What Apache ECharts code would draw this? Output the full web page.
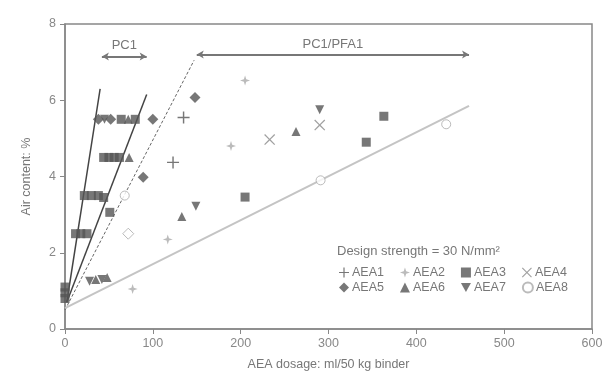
<!DOCTYPE html>
<html>
<head>
<meta charset="utf-8">
<script src="https://cdn.jsdelivr.net/npm/echarts@6/dist/echarts.min.js"></script>
<style>
  html, body { margin: 0; padding: 0; background: #fff; }
  #chart { width: 608px; height: 388px; }
</style>
</head>
<body>
<div id="chart"></div>
<script>
// tick labels
var xTicks = [0, 100, 200, 300, 400, 500, 600];
var yTicks = [0, 2, 4, 6, 8];

// points: [AEA dosage, air content]
var aea1 = [[135, 5.55], [123, 4.37]];
var aea2 = [[205, 6.52], [189, 4.8], [117, 2.35], [77, 1.05]];
var aea3 = [[0, 0.8], [0, 0.95], [0, 1.1], [12, 2.5], [18, 2.5], [25, 2.5],
  [22, 3.5], [30, 3.5], [38, 3.5], [44, 3.45], [51, 3.06],
  [44, 4.5], [50, 4.5], [56, 4.5], [62, 4.5], [64, 5.5], [80, 5.5],
  [205, 3.46], [343, 4.9], [363, 5.58]];
var aea4 = [[233, 4.97], [290, 5.35]];
var aea5 = [[38, 5.5], [52, 5.5], [89, 3.98], [100, 5.5], [148, 6.07]];
var aea6 = [[35, 1.3], [48, 1.35], [73, 4.5], [72, 5.5], [133, 2.95], [263, 5.18]];
var aea7 = [[28, 1.25], [42, 1.3], [45, 5.5], [149, 3.22], [290, 5.75]];
var aea8 = [[68, 3.5], { value: [72, 2.5], symbol: 'diamond', symbolSize: 11 }, [291, 3.9], [434, 5.37]];

// fitted lines
var linePC1a = [[2, 0.7], [40, 6.3]];
var linePC1b = [[2, 0.7], [93, 6.15]];
var linePFA1a = [[0, 0.5], [147, 7.05]];
var linePFA1b = [[0, 0.55], [460, 5.85]];

// range bars
var barPC1 = [[42, 7.15], [93, 7.15]];
var barPFA1 = [[150, 7.2], [460, 7.2]];

var plusPath = 'path://M0,4.4H10V5.6H0Z M4.4,0H5.6V10H4.4Z';
var crossPath = 'path://M0.8,0 L5,4.2 L9.2,0 L10,0.8 L5.8,5 L10,9.2 L9.2,10 L5,5.8 L0.8,10 L0,9.2 L4.2,5 L0,0.8Z';
var starPath = 'path://M5,0 L6.2,3.8 L10,5 L6.2,6.2 L5,10 L3.8,6.2 L0,5 L3.8,3.8Z';

function pts(name, data, symbol, size, style) {
  return {
    name: name, type: 'scatter', data: data, symbol: symbol,
    symbolSize: size, itemStyle: style, z: 5
  };
}

function trend(data, color, width, type) {
  return {
    type: 'line', data: data, symbol: 'none', silent: true,
    lineStyle: { color: color, width: width, type: type }, z: 3
  };
}

function rangeBar(data, text) {
  return {
    type: 'line', data: [], silent: true,
    markLine: {
      symbol: ['arrow', 'arrow'], symbolSize: [6, 7], silent: true,
      lineStyle: { color: '#777', width: 2, type: 'solid' },
      label: { show: true, position: 'insideMiddleTop', formatter: text,
        color: '#777', fontSize: 13, distance: 4 },
      data: [[{ coord: data[0] }, { coord: data[1] }]]
    }
  };
}

var chart = echarts.init(document.getElementById('chart'));

var legendStyle = { color: '#777', fontSize: 12.5, padding: [0, 0, 0, -2] };

var option = {
  backgroundColor: '#fff',
  animation: false,
  grid: { left: 65, right: 16, top: 24, bottom: 59, show: true,
    borderColor: '#888', borderWidth: 1.5 },
  xAxis: {
    type: 'value', min: xTicks[0], max: xTicks[xTicks.length - 1], interval: 100,
    name: 'AEA dosage: ml/50 kg binder', nameLocation: 'middle', nameGap: 29,
    nameTextStyle: { color: '#777', fontSize: 12.5 },
    axisLine: { lineStyle: { color: '#888', width: 1.5 } },
    axisTick: { length: 5, lineStyle: { color: '#888' } },
    axisLabel: { color: '#888', fontSize: 12.5, margin: 8 },
    splitLine: { show: false }
  },
  yAxis: {
    type: 'value', min: yTicks[0], max: yTicks[yTicks.length - 1], interval: 2,
    name: 'Air content: %', nameLocation: 'middle', nameGap: 32,
    nameTextStyle: { color: '#777', fontSize: 12.5 },
    axisLine: { lineStyle: { color: '#888', width: 1.5 } },
    axisTick: { length: 5, lineStyle: { color: '#888' } },
    axisLabel: { color: '#888', fontSize: 12.5, margin: 9 },
    splitLine: { show: false }
  },
  legend: [
    { data: ['AEA1', 'AEA2', 'AEA3', 'AEA4'], left: 334, top: 261,
      itemWidth: 10, itemHeight: 10, itemGap: 16, textStyle: legendStyle },
    { data: ['AEA5', 'AEA6', 'AEA7', 'AEA8'], left: 334, top: 276,
      itemWidth: 10, itemHeight: 10, itemGap: 16, textStyle: legendStyle }
  ],
  graphic: [
    { type: 'text', left: 337, top: 245,
      style: { text: 'Design strength = 30 N/mm²', fill: '#777', fontSize: 13 } }
  ],
  series: [
    trend(linePC1a, '#444', 1.5, 'solid'),
    trend(linePC1b, '#444', 1.5, 'solid'),
    trend(linePFA1a, '#666', 1, [3, 2]),
    trend(linePFA1b, '#c4c4c4', 2, 'solid'),
    rangeBar(barPC1, 'PC1'),
    rangeBar(barPFA1, 'PC1/PFA1'),
    pts('AEA1', aea1, plusPath, 12, { color: '#555' }),
    pts('AEA2', aea2, starPath, 10, { color: '#aaa' }),
    pts('AEA3', aea3, 'rect', 9, { color: '#555' }),
    pts('AEA4', aea4, crossPath, 11, { color: '#888' }),
    pts('AEA5', aea5, 'diamond', 11, { color: '#555' }),
    pts('AEA6', aea6, 'triangle', 9, { color: '#555' }),
    pts('AEA7', aea7, 'path://M0,0 L10,0 L5,9Z', 9, { color: '#555' }),
    pts('AEA8', aea8, 'circle', 9, { color: '#fff', borderColor: '#aaa', borderWidth: 1 })
  ]
};

chart.setOption(option);
</script>
</body>
</html>
